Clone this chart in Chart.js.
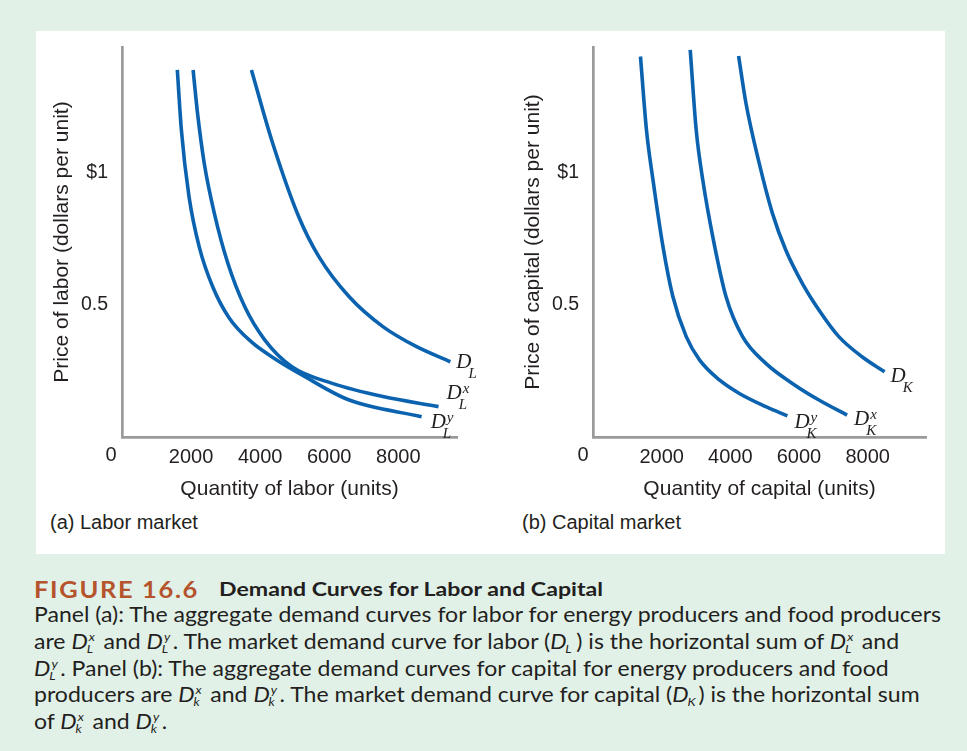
<!DOCTYPE html>
<html>
<head>
<meta charset="utf-8">
<script src="https://cdn.jsdelivr.net/npm/chart.js@4.4.1/dist/chart.umd.min.js"></script>
<style>
  html, body { margin: 0; padding: 0; }
  body {
    width: 967px; height: 751px; position: relative; overflow: hidden;
    background: #e2f1e8; font-family: "Liberation Sans", Arial, sans-serif; color: #231f20;
  }
  #sheet { position: absolute; left: 36px; top: 31px; width: 909px; height: 523px; background: #fff; }
  canvas { position: absolute; top: 31px; }
  #labor { left: 36px; }
  #capital { left: 507px; }
  .plabel { position: absolute; top: 509px; font-size: 20px; line-height: 26px; white-space: nowrap; }
  #caption-title { position: absolute; left: 34px; top: 576px; height: 27px; line-height: 27px; white-space: nowrap; font-family: Lato, "Open Sans", sans-serif; }
  .fig { font-weight: bold; font-size: 23px; color: #b5532c; letter-spacing: 1.5px; display: inline-block; transform-origin: left center; }
  .ftitle { font-weight: bold; font-size: 18px; position: absolute; left: 185px; top: 0; display: inline-block; transform-origin: left center; }
  #caption { position: absolute; left: 34px; top: 601px; font-family: Lato, "Open Sans", sans-serif; font-size: 21px; line-height: 26.8px; transform-origin: left top; }
  #caption .ln { white-space: nowrap; height: 26.8px; }
  #caption .ln span.first { display: inline-block; }
  .v i { font-style: italic; }
  .ss { display: inline-block; position: relative; width: 9px; height: 10px; font-style: italic; font-size: 12px; line-height: 12px; }
  .ss .sp { position: absolute; left: 1px; bottom: 6px; }
  .ss .sb { position: absolute; left: -1px; top: 4px; }
</style>
</head>
<body>
<div id="sheet"></div>
<canvas id="labor" width="470" height="474"></canvas>
<canvas id="capital" width="438" height="474"></canvas>
<div class="plabel" style="left:50px">(a) Labor market</div>
<div class="plabel" style="left:522px">(b) Capital market</div>

<div id="caption-title"><span class="fig" id="fig">FIGURE 16.6</span><span class="ftitle" id="ftitle">Demand Curves for Labor and Capital</span></div>
<div id="caption">
  <div class="ln"><span class="first" id="line1">Panel (a): The aggregate demand curves for labor for energy producers and food producers</span></div>
  <div class="ln">are <span class="v"><i>D</i><span class="ss"><span class="sp">x</span><span class="sb">L</span></span></span> and <span class="v"><i>D</i><span class="ss"><span class="sp">y</span><span class="sb">L</span></span></span>. The market demand curve for labor (<span class="v"><i>D</i><span class="ss"><span class="sb">L</span></span></span>) is the horizontal sum of <span class="v"><i>D</i><span class="ss"><span class="sp">x</span><span class="sb">L</span></span></span> and</div>
  <div class="ln"><span class="v"><i>D</i><span class="ss"><span class="sp">y</span><span class="sb">L</span></span></span>. Panel (b): The aggregate demand curves for capital for energy producers and food</div>
  <div class="ln">producers are <span class="v"><i>D</i><span class="ss"><span class="sp">x</span><span class="sb">k</span></span></span> and <span class="v"><i>D</i><span class="ss"><span class="sp">y</span><span class="sb">k</span></span></span>. The market demand curve for capital (<span class="v"><i>D</i><span class="ss"><span class="sb">K</span></span></span>) is the horizontal sum</div>
  <div class="ln">of <span class="v"><i>D</i><span class="ss"><span class="sp">x</span><span class="sb">k</span></span></span> and <span class="v"><i>D</i><span class="ss"><span class="sp">y</span><span class="sb">k</span></span></span>.</div>
</div>

<script>
// ---- data (quantity in units, price in dollars) ----
const laborTicks = [2000, 4000, 6000, 8000];
const capitalTicks = [2000, 4000, 6000, 8000];
const priceTicks = [0.5, 1];

// panel (a) labor market
const dLQty   = [3748, 4333, 5115, 5700, 6579, 7554, 8530, 9507];
const dLPrice = [1.39, 1.125, 0.835, 0.683, 0.531, 0.418, 0.342, 0.285];
const dLxQty   = [2059, 2187, 2381, 2674, 3065, 3552, 4137, 4919, 6090, 7554, 9165];
const dLxPrice = [1.39, 1.226, 1.037, 0.847, 0.658, 0.494, 0.367, 0.266, 0.203, 0.153, 0.115];
const dLyQty   = [1602, 1719, 1941, 2234, 2626, 3104, 3748, 4480, 5212, 6579, 8676];
const dLyPrice = [1.39, 1.163, 0.91, 0.721, 0.569, 0.451, 0.36, 0.292, 0.235, 0.14, 0.077];

// panel (b) capital market
const dKQty   = [4241, 4456, 4841, 5227, 5615, 6097, 6581, 7161, 7836, 8494];
const dKPrice = [1.443, 1.264, 1.037, 0.847, 0.708, 0.582, 0.481, 0.38, 0.304, 0.247];
const dKxQty   = [2832, 3006, 3198, 3488, 3876, 4357, 5035, 5807, 6581, 7401];
const dKxPrice = [1.466, 1.163, 0.973, 0.759, 0.531, 0.38, 0.279, 0.203, 0.14, 0.083];
const dKyQty   = [1383, 1557, 1748, 2038, 2328, 2716, 3102, 3682, 4262, 5035, 5662];
const dKyPrice = [1.441, 1.163, 0.973, 0.721, 0.531, 0.38, 0.292, 0.216, 0.165, 0.115, 0.08];

const BLUE = '#0b63b0';
const AXIS = '#9a9a9a';
const INK = '#231f20';
const SANS = '"Liberation Sans", Arial, Helvetica, sans-serif';

const pts = (xs, ys) => xs.map((x, i) => ({ x, y: ys[i] }));

function curve(xs, ys) {
  return {
    data: pts(xs, ys),
    showLine: true,
    borderColor: BLUE,
    borderWidth: 3.6,
    pointRadius: 0,
    cubicInterpolationMode: 'monotone',
    fill: false
  };
}

// draws the "0" at the origin and the D labels at the curve ends
const curveLabels = {
  id: 'curveLabels',
  afterDatasetsDraw(chart, args, opts) {
    const ctx = chart.ctx;
    const xs = chart.scales.x, ys = chart.scales.y;
    ctx.save();
    ctx.fillStyle = INK;
    ctx.font = '20px ' + SANS;
    ctx.textAlign = 'center';
    ctx.textBaseline = 'middle';
    ctx.fillText('0', xs.getPixelForValue(0) + opts.zeroDx, ys.getPixelForValue(0) + 18);

    ctx.textAlign = 'left';
    ctx.textBaseline = 'alphabetic';
    opts.labels.forEach((lab, i) => {
      const d = chart.data.datasets[i].data;
      const last = d[d.length - 1];
      const px = xs.getPixelForValue(last.x) + lab.dx;
      const py = ys.getPixelForValue(last.y) + lab.dy;
      ctx.font = 'italic 21px "Liberation Serif", "Times New Roman", serif';
      ctx.fillText('D', px, py);
      const w = ctx.measureText('D').width;
      ctx.font = 'italic 15px "Liberation Serif", "Times New Roman", serif';
      if (lab.sup) ctx.fillText(lab.sup, px + w + 1, py - 6);
      ctx.fillText(lab.sub, px + w - 3, py + 10);
    });
    ctx.restore();
  }
};

function makeChart(id, datasets, ticks, xTitle, yTitle, rightPad, labels, zeroDx) {
  return new Chart(document.getElementById(id), {
    type: 'scatter',
    data: { datasets },
    options: {
      responsive: false,
      animation: false,
      layout: { padding: { top: 16, right: rightPad, left: 0, bottom: 0 } },
      plugins: {
        legend: { display: false },
        tooltip: { enabled: false },
        curveLabels: { labels, zeroDx }
      },
      scales: {
        x: {
          type: 'linear',
          min: 0,
          max: 9700,
          afterBuildTicks: s => { s.ticks = ticks.map(v => ({ value: v })); },
          afterFit: s => { s.height = 68; s.paddingLeft = 0; s.paddingRight = 0; },
          grid: { display: false, drawTicks: false },
          border: { display: true, color: AXIS, width: 2.7 },
          ticks: { color: INK, font: { family: SANS, size: 20 }, padding: 8, maxRotation: 0, callback: v => String(v) },
          title: { display: true, text: xTitle, color: INK, font: { family: SANS, size: 21 }, padding: { top: 0, bottom: 3.4 } }
        },
        y: {
          type: 'linear',
          min: 0,
          max: 1.477,
          afterBuildTicks: s => { s.ticks = priceTicks.map(v => ({ value: v })); },
          afterFit: s => { s.width = 86; s.paddingTop = 0; s.paddingBottom = 0; },
          grid: { display: false, drawTicks: false },
          border: { display: true, color: AXIS, width: 2.7 },
          ticks: { color: INK, font: { family: SANS, size: 19.5 }, padding: 14, callback: v => (v === 1 ? '$1' : String(v)) },
          title: { display: true, text: yTitle, color: INK, font: { family: SANS, size: 21 }, padding: { top: 13.4, bottom: 0 } }
        }
      }
    },
    plugins: [curveLabels]
  });
}

makeChart('labor',
  [curve(dLQty, dLPrice), curve(dLxQty, dLxPrice), curve(dLyQty, dLyPrice)],
  laborTicks, 'Quantity of labor (units)', 'Price of labor (dollars per unit)', 49,
  [{ sub: 'L', dx: 6, dy: 6 }, { sub: 'L', sup: 'x', dx: 8, dy: -8 }, { sub: 'L', sup: 'y', dx: 9, dy: 11 }],
  -11);

makeChart('capital',
  [curve(dKQty, dKPrice), curve(dKxQty, dKxPrice), curve(dKyQty, dKyPrice)],
  capitalTicks, 'Quantity of capital (units)', 'Price of capital (dollars per unit)', 19,
  [{ sub: 'K', dx: 6, dy: 10 }, { sub: 'K', sup: 'x', dx: 7, dy: 10 }, { sub: 'K', sup: 'y', dx: 7, dy: 12 }],
  -10);

// squeeze caption text to the width of the printed lines
function fitWidth(el, target, box) {
  const w = el.getBoundingClientRect().width;
  (box || el).style.transform = 'scaleX(' + (target / w) + ')';
}
fitWidth(document.getElementById('line1'), 907, document.getElementById('caption'));
fitWidth(document.getElementById('fig'), 165);
fitWidth(document.getElementById('ftitle'), 384);
</script>
</body>
</html>
